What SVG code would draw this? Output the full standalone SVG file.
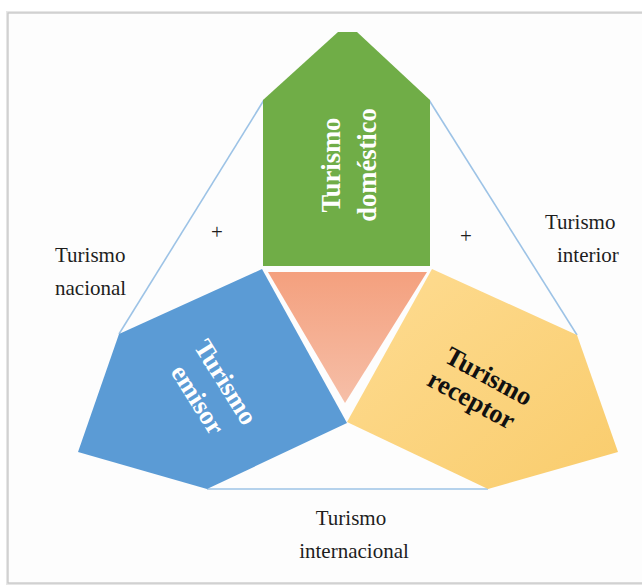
<svg xmlns="http://www.w3.org/2000/svg" width="642" height="585" viewBox="0 0 642 585">
<style>
.lbl{font-family:"Liberation Serif","Times New Roman",serif;font-size:21px;fill:#1e1e1e}
.node{font-family:"Liberation Serif","Times New Roman",serif;font-size:26.5px;font-weight:bold;text-anchor:middle}
.conn{stroke:#9DC3E6;stroke-width:1.6;fill:none}
</style>
<defs>
<linearGradient id="gOr" x1="0" y1="0" x2="0" y2="1">
<stop offset="0" stop-color="#F4A07E"/>
<stop offset="1" stop-color="#F6BFA8"/>
</linearGradient>
<linearGradient id="gYe" x1="0" y1="0" x2="1" y2="1">
<stop offset="0" stop-color="#FEDC92"/>
<stop offset="1" stop-color="#F9CC6C"/>
</linearGradient>
</defs>
<rect x="0" y="0" width="642" height="585" fill="#ffffff"/>
<rect x="6" y="11" width="650" height="575" fill="#e6e6e6"/>
<rect x="8" y="13" width="650" height="570" fill="#fdfdfd" stroke="#c4c4c4" stroke-width="1.2"/>
<g id="connectors">
<line class="conn" x1="264" y1="100" x2="119" y2="334"/>
<line class="conn" x1="429" y1="100" x2="577" y2="335"/>
<line class="conn" x1="207" y1="489" x2="488" y2="489"/>
</g>
<g id="centro">
<polygon points="268,272 427,272 345,403" fill="url(#gOr)"/>
</g>
<g id="domestico">
<polygon points="263,100 338,32 357,32 430,100 430,266 263,266" fill="#70AD47"/>
<g transform="translate(331,165) rotate(-90)" class="node" fill="#ffffff">
<text x="0" y="9">Turismo</text>
<text x="0" y="45">doméstico</text>
</g>
</g>
<g id="emisor">
<polygon points="262,269 347,423 207,489 78,452 119,334" fill="#5B9BD5"/>
<g transform="translate(226,382) rotate(58)" class="node" fill="#ffffff">
<text x="0" y="9">Turismo</text>
<text x="0" y="42">emisor</text>
</g>
</g>
<g id="receptor">
<polygon points="432,269 577,335 618,452 488,489 347,422" fill="url(#gYe)"/>
<g transform="translate(489,376) rotate(28.6)" class="node" fill="#111111">
<text x="0" y="9">Turismo</text>
<text x="-4" y="38">receptor</text>
</g>
</g>
<g id="labels">
<text class="lbl" x="55" y="262">Turismo</text>
<text class="lbl" x="55" y="295">nacional</text>
<text class="lbl" x="545" y="229">Turismo</text>
<text class="lbl" x="557" y="262">interior</text>
<text class="lbl" x="351" y="525" text-anchor="middle">Turismo</text>
<text class="lbl" x="354" y="558" text-anchor="middle">internacional</text>
<text class="lbl" x="217" y="239" text-anchor="middle">+</text>
<text class="lbl" x="466" y="243" text-anchor="middle">+</text>
</g>
</svg>
